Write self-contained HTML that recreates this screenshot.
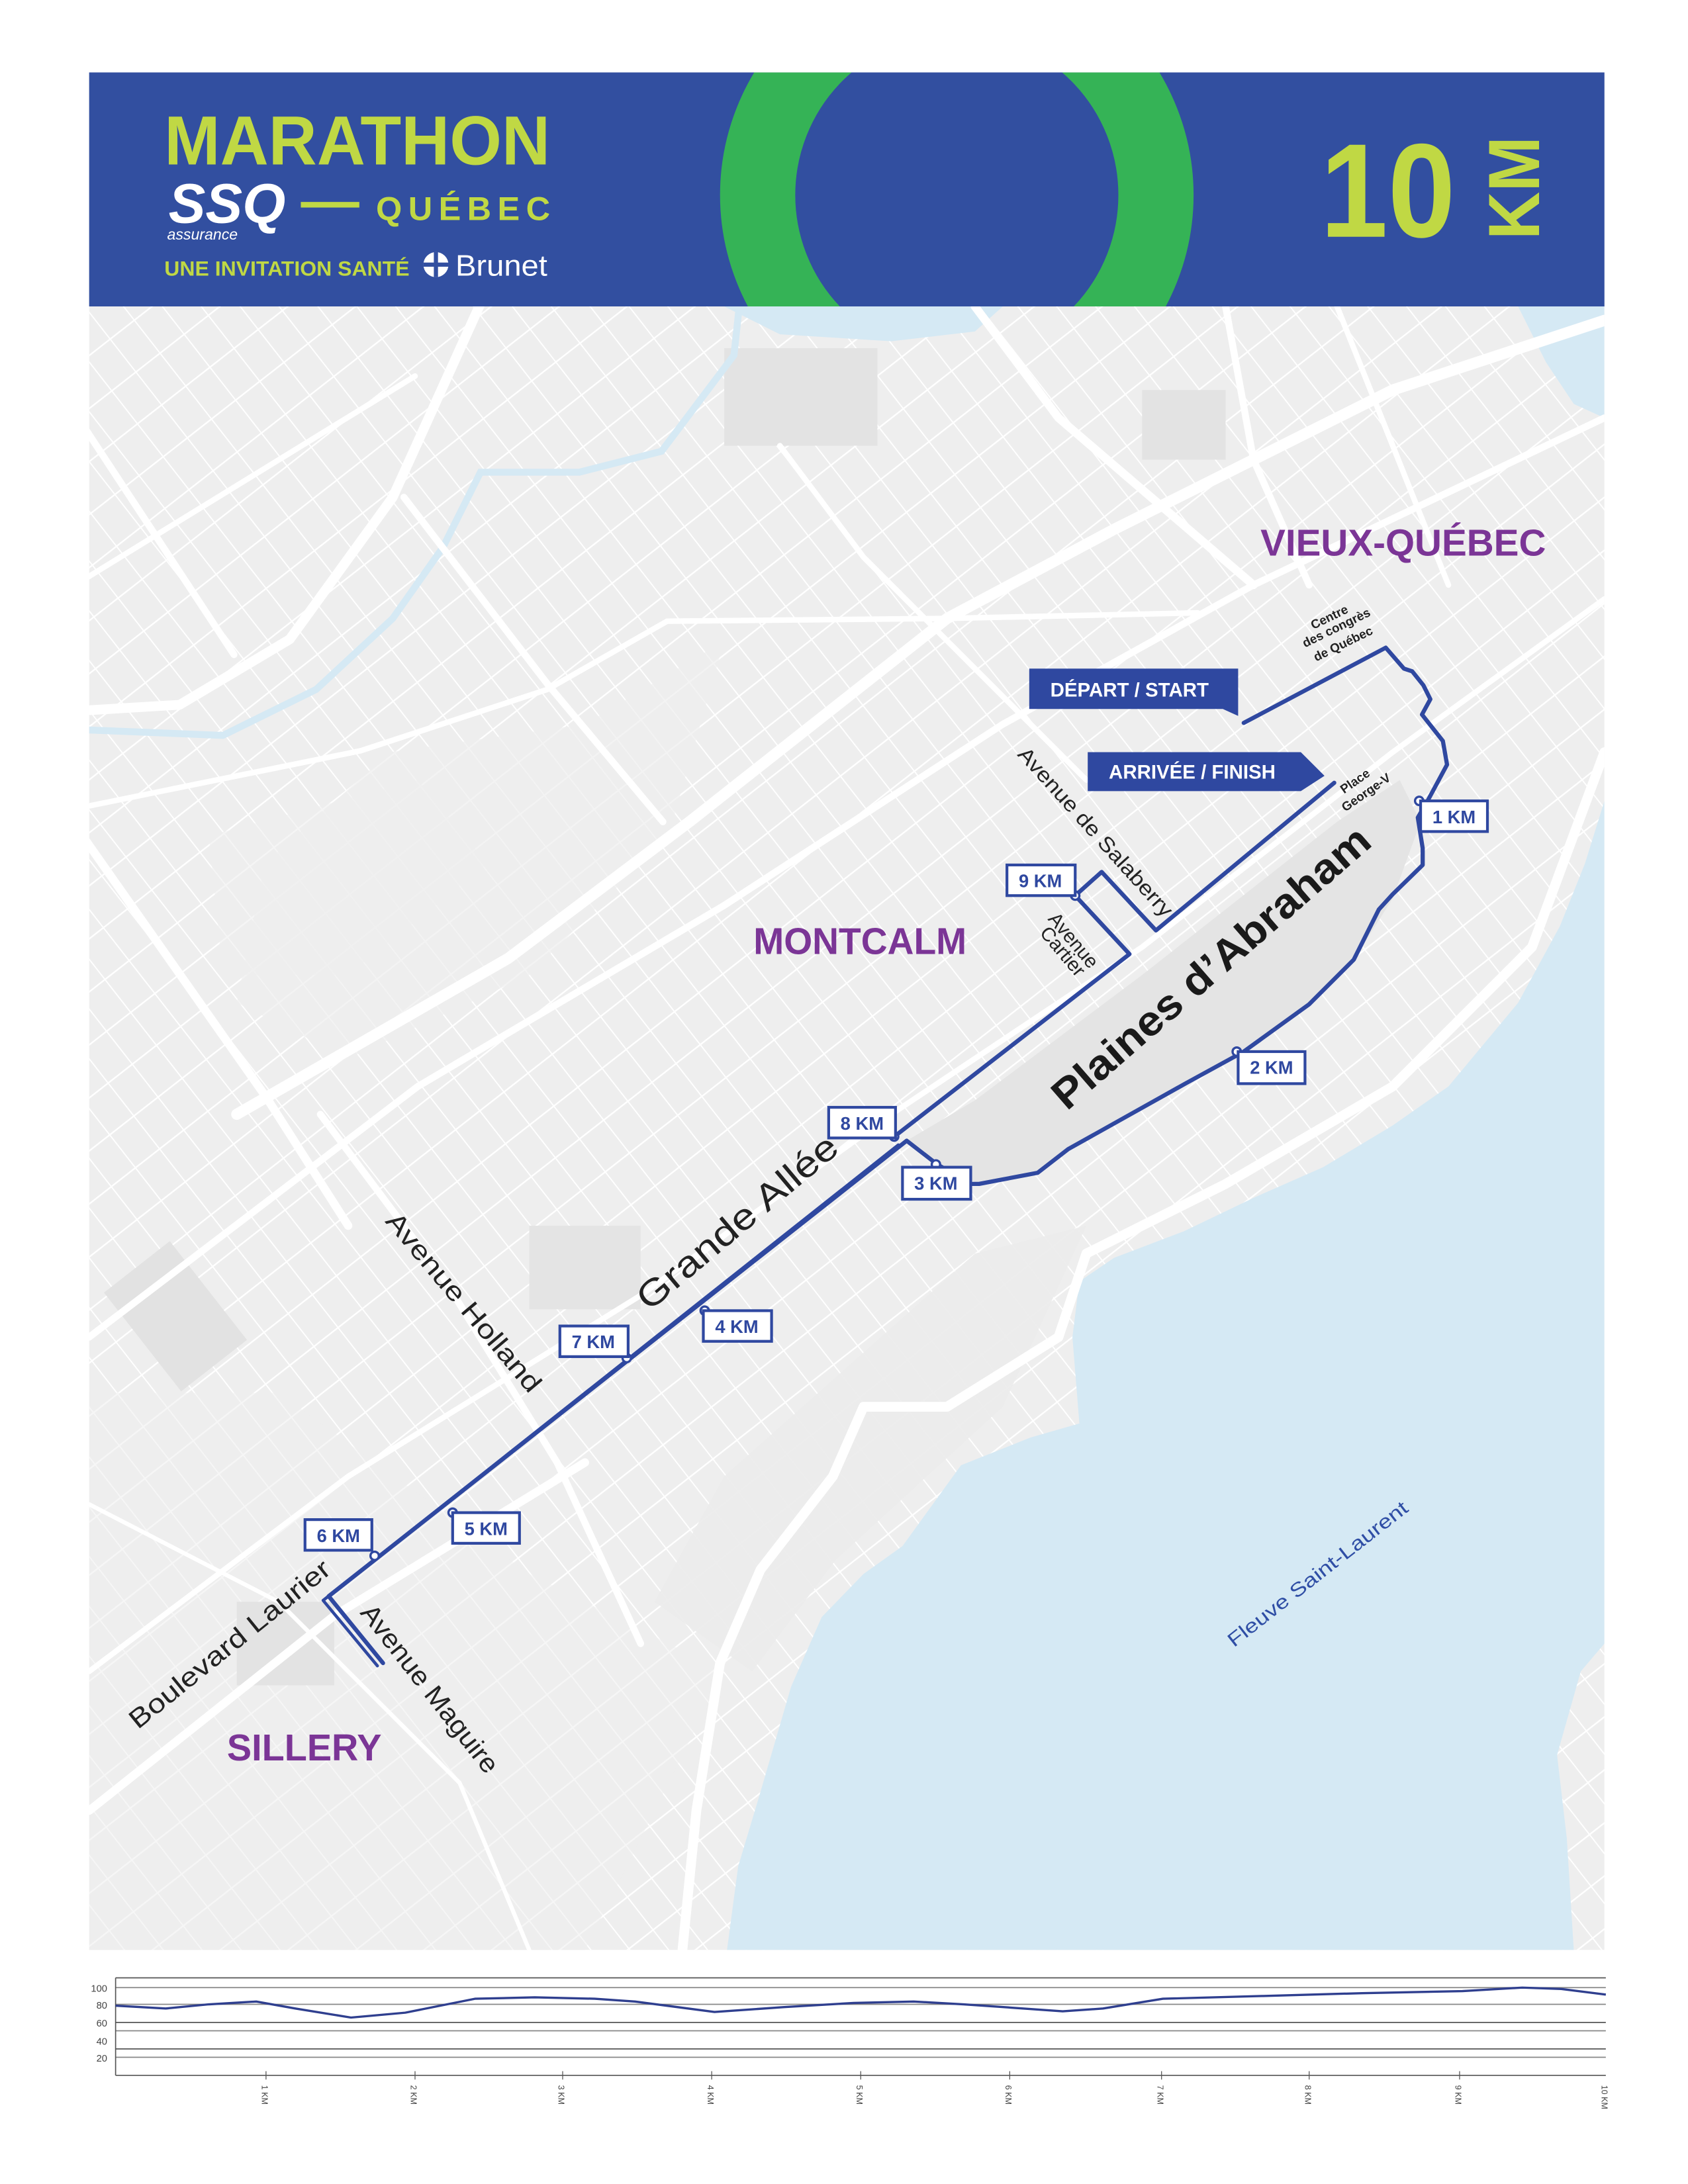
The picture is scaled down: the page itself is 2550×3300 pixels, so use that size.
<!DOCTYPE html>
<html><head><meta charset="utf-8"><style>
html,body{margin:0;padding:0;background:#fff}
svg{display:block}
text{font-family:"Liberation Sans","DejaVu Sans",sans-serif}
</style></head><body>
<svg width="2550" height="3300" viewBox="0 0 1212 1568" preserveAspectRatio="none" xmlns="http://www.w3.org/2000/svg">
<defs>
<clipPath id="hdr"><rect x="64" y="52" width="1088" height="168"/></clipPath>
<clipPath id="map"><rect x="64" y="220" width="1088" height="1180"/></clipPath>
<pattern id="grid" width="22" height="30" patternUnits="userSpaceOnUse" patternTransform="rotate(-38)">
<rect width="22" height="30" fill="none"/>
<line x1="0" y1="0" x2="22" y2="0" stroke="#fff" stroke-width="2.2"/>
<line x1="0" y1="0" x2="0" y2="30" stroke="#fff" stroke-width="1.8"/>
</pattern>
</defs>
<rect width="1212" height="1568" fill="#fff"/>
<!-- HEADER -->
<rect x="64" y="52" width="1088" height="168" fill="#324fa0"/>
<g clip-path="url(#hdr)">
<circle cx="687" cy="140" r="143" fill="none" stroke="#35b356" stroke-width="54"/>
</g>
<text x="118" y="118" font-size="50" font-weight="bold" fill="#c0d844" textLength="277" lengthAdjust="spacingAndGlyphs">MARATHON</text>
<text x="121" y="160" font-size="40" font-weight="bold" font-style="italic" fill="#fff" textLength="84" lengthAdjust="spacingAndGlyphs">SSQ</text>
<text x="120" y="172" font-size="11" font-style="italic" fill="#fff">assurance</text>
<rect x="216" y="145" width="42" height="4" fill="#c0d844"/>
<text x="270" y="158" font-size="24" font-weight="bold" fill="#c0d844" textLength="125" lengthAdjust="spacing">QUÉBEC</text>
<text x="118" y="198" font-size="15" font-weight="bold" fill="#c0d844" textLength="176" lengthAdjust="spacingAndGlyphs">UNE INVITATION SANTÉ</text>
<circle cx="313" cy="190" r="9" fill="#fff"/>
<rect x="311.5" y="181" width="3" height="18" fill="#324fa0"/><rect x="304" y="188.5" width="18" height="3" fill="#324fa0"/>
<text x="327" y="198" font-size="21" fill="#fff" textLength="66" lengthAdjust="spacingAndGlyphs">Brunet</text>
<text x="948" y="170" font-size="96" font-weight="bold" fill="#c0d844" textLength="97" lengthAdjust="spacingAndGlyphs">10</text>
<text transform="translate(1105,172) rotate(-90)" font-size="52" font-weight="bold" fill="#c0d844" textLength="74" lengthAdjust="spacingAndGlyphs">KM</text>

<!-- MAP -->
<g clip-path="url(#map)">
<rect x="64" y="220" width="1088" height="1180" fill="#eeeeee"/>
<rect x="64" y="220" width="1088" height="1180" fill="url(#grid)"/>
<!-- sparse zones -->
<path d="M64,1000 L200,1000 L380,1130 L520,1200 L420,1400 L64,1400Z" fill="#eeeeee" opacity="0.5"/>
<path d="M520,1060 L700,900 L780,880 L720,1010 L600,1120 L540,1200 L470,1150Z" fill="#ebebeb" opacity="0.9"/>
<path d="M280,540 L420,520 L520,460 L480,600 L380,700 L250,760 L170,720 L190,620Z" fill="#eeeeee" opacity="0.7"/>
<path d="M150,600 L300,560 L350,620 L250,700 L160,700Z" fill="#eeeeee" opacity="0.6"/>
<!-- parks -->
<path d="M651,819 L700,790 L820,700 L960,590 L1005,560 L1020,590 L1000,645 L972,689 L940,721 L893,755 L851,778 L766,825 L745,842 L703,850 L672,836Z" fill="#e4e4e4"/>
<rect x="520" y="250" width="110" height="70" fill="#e3e3e3"/>
<rect x="96" y="900" width="60" height="90" fill="#e2e2e2" transform="rotate(-38 126 945)"/>
<rect x="170" y="1150" width="70" height="60" fill="#e3e3e3"/>
<rect x="820" y="280" width="60" height="50" fill="#e3e3e3"/>
<rect x="380" y="880" width="80" height="60" fill="#e4e4e4"/>
<!-- water -->
<path d="M1152,575 L1138,620 L1120,665 L1090,720 L1040,780 L1000,808 L950,838 L900,860 L850,884 L800,903 L775,920 L770,960 L775,1022 L740,1032 L690,1052 L648,1110 L620,1130 L590,1161 L568,1211 L545,1290 L530,1340 L522,1400 L1130,1400 L1125,1320 L1118,1260 L1135,1200 L1152,1180Z" fill="#d5e9f4"/>
<path d="M1090,220 L1152,220 L1152,300 L1130,290 L1110,260Z" fill="#d5e9f4"/>
<path d="M520,220 L720,220 L700,238 L640,245 L560,240Z" fill="#d5e9f4"/>
<polyline points="61.8,524 160,528 227,495 282,444 318,393 345,339 416,339 475,324 527,255 531,218" fill="none" stroke="#d5e9f4" stroke-width="5"/>
<!-- major roads -->
<g fill="none" stroke="#fff" stroke-linecap="round" stroke-linejoin="round">
<polyline points="345,218 282,357 208,459 129,506 62,510" stroke-width="7"/>
<polyline points="62,309 168,470" stroke-width="5"/>
<polyline points="62,415 298,270" stroke-width="4"/>
<polyline points="290,357 393,491 476,590" stroke-width="5"/>
<polyline points="170,800 365,688 495,590 680,444 800,380 1000,280 1152,230" stroke-width="8"/>
<polyline points="62,604 192,789 250,880" stroke-width="6"/>
<polyline points="62,579 259,539 393,495 479,446 680,444 860,440" stroke-width="4"/>
<polyline points="64,960 300,780 520,650 720,520 900,420 1152,300" stroke-width="5"/>
<polyline points="64,1200 250,1060 460,930 640,800 820,680 1000,540 1152,430" stroke-width="4"/>
<polyline points="64,1300 240,1160 420,1050" stroke-width="6"/>
<polyline points="1152,540 1100,680 1000,780 880,850 780,900 760,960 680,1010 620,1010 598,1060 546,1127 517,1194 500,1300 490,1400" stroke-width="7"/>
<polyline points="230,800 320,920 400,1050 460,1180" stroke-width="5"/>
<polyline points="700,220 760,300 830,360 900,420" stroke-width="6"/>
<polyline points="880,220 900,330 940,420" stroke-width="5"/>
<polyline points="960,220 1000,320 1040,420" stroke-width="4"/>
<polyline points="560,320 620,400 700,480 780,560" stroke-width="4"/>
<polyline points="64,1080 200,1150 330,1280 380,1400" stroke-width="3"/>
</g>
<!-- route -->
<g fill="none" stroke="#2f48a0" stroke-width="3" stroke-linejoin="round" stroke-linecap="round">
<polyline points="893,519 995,465 1008,480 1014,482 1022,492 1027,502 1021,513 1036,532 1039,549 1025,575 1018,587 1021.5,609 1021.5,621 1000,642 990,653 972,689 940,721 893,755 851,778 767,825 745,842 703,850 697,850"/>
<polyline points="697,850 673,836 651,819 236,1146 275,1194"/>
<polyline points="642,816 646,813 811,685 772,643 791,626 830,668 958,562"/>
<polyline points="645,822 232,1149 271,1196" stroke-width="2.2"/>
</g>
<g fill="#fff" stroke="#2f48a0" stroke-width="1.6">
<circle cx="1019" cy="575" r="3"/><circle cx="888" cy="755" r="3"/><circle cx="672" cy="836" r="3"/>
<circle cx="642" cy="816" r="3"/><circle cx="506" cy="941" r="3"/><circle cx="450" cy="975" r="3"/>
<circle cx="325" cy="1086" r="3"/><circle cx="269" cy="1117" r="3"/><circle cx="772" cy="643" r="3"/>
</g>
<!-- km boxes -->
<g fill="#fff" stroke="#2f48a0" stroke-width="2">
<rect x="1020" y="575" width="48" height="22"/><rect x="889" y="755" width="48" height="23"/>
<rect x="648" y="838" width="49" height="23"/><rect x="595" y="795" width="48" height="22"/>
<rect x="505" y="941" width="49" height="22"/><rect x="402" y="952" width="49" height="22"/>
<rect x="325" y="1086" width="48" height="22"/><rect x="219" y="1091" width="48" height="22"/>
<rect x="723" y="621" width="49" height="22"/>
</g>
<g fill="#2f48a0" font-size="13" font-weight="bold" text-anchor="middle">
<text x="1044" y="591">1 KM</text><text x="913" y="771">2 KM</text><text x="672" y="854">3 KM</text>
<text x="619" y="811">8 KM</text><text x="529" y="957">4 KM</text><text x="426" y="968">7 KM</text>
<text x="349" y="1102">5 KM</text><text x="243" y="1107">6 KM</text><text x="747" y="637">9 KM</text>
</g>
<!-- start / finish -->
<path d="M739,480 L889,480 L889,514 L878,509 L739,509Z" fill="#2f48a0"/>
<text x="811" y="500" font-size="14" font-weight="bold" fill="#fff" text-anchor="middle">DÉPART / START</text>
<path d="M781,540 L934,540 L951,557 L934,568 L781,568Z" fill="#2f48a0"/>
<text x="856" y="559" font-size="14" font-weight="bold" fill="#fff" text-anchor="middle">ARRIVÉE / FINISH</text>
<!-- labels -->
<text x="905" y="399" font-size="27" font-weight="bold" fill="#7b3596" textLength="205" lengthAdjust="spacingAndGlyphs">VIEUX-QUÉBEC</text>
<text x="541" y="685" font-size="27" font-weight="bold" fill="#7b3596" textLength="153" lengthAdjust="spacingAndGlyphs">MONTCALM</text>
<text x="163" y="1264" font-size="27" font-weight="bold" fill="#7b3596" textLength="111" lengthAdjust="spacingAndGlyphs">SILLERY</text>
<text transform="translate(766,798) rotate(-41)" font-size="30" font-weight="bold" fill="#1a1a1a" textLength="292" lengthAdjust="spacingAndGlyphs">Plaines d’Abraham</text>
<text transform="translate(466,942) rotate(-40)" font-size="26" fill="#222" textLength="180" lengthAdjust="spacingAndGlyphs">Grande Allée</text>
<text transform="translate(276,877) rotate(50)" font-size="19" fill="#222" textLength="162" lengthAdjust="spacingAndGlyphs">Avenue Holland</text>
<text transform="translate(730,542) rotate(48)" font-size="15" fill="#222" textLength="158" lengthAdjust="spacingAndGlyphs">Avenue de Salaberry</text>
<text transform="translate(752,660) rotate(50)" font-size="14" fill="#222">Avenue</text>
<text transform="translate(746,670) rotate(50)" font-size="14" fill="#222">Cartier</text>
<text transform="translate(99,1242) rotate(-39)" font-size="19" fill="#222" textLength="180" lengthAdjust="spacingAndGlyphs">Boulevard Laurier</text>
<text transform="translate(258,1158) rotate(52)" font-size="19" fill="#222" textLength="148" lengthAdjust="spacingAndGlyphs">Avenue Maguire</text>
<text transform="translate(943,452) rotate(-26)" font-size="9" font-weight="bold" fill="#222">Centre</text>
<text transform="translate(937,465) rotate(-26)" font-size="9" font-weight="bold" fill="#222">des congrès</text>
<text transform="translate(945,475) rotate(-26)" font-size="9" font-weight="bold" fill="#222">de Québec</text>
<text transform="translate(965,570) rotate(-35)" font-size="9" font-weight="bold" fill="#222">Place</text>
<text transform="translate(966,583) rotate(-35)" font-size="9" font-weight="bold" fill="#222">George-V</text>
<text transform="translate(886,1183) rotate(-38)" font-size="14" fill="#2f4ea5" textLength="160" lengthAdjust="spacingAndGlyphs">Fleuve Saint-Laurent</text>
</g>

<!-- ELEVATION CHART -->
<g stroke="#555" stroke-width="0.8">
<line x1="83" y1="1420" x2="1153" y2="1420"/><line x1="83" y1="1427" x2="1153" y2="1427" stroke="#888"/>
<line x1="83" y1="1439" x2="1153" y2="1439" stroke="#888"/><line x1="83" y1="1452" x2="1153" y2="1452"/>
<line x1="83" y1="1458" x2="1153" y2="1458" stroke="#888"/><line x1="83" y1="1471" x2="1153" y2="1471"/>
<line x1="83" y1="1477" x2="1153" y2="1477" stroke="#888"/><line x1="83" y1="1490" x2="1153" y2="1490"/>
<line x1="83" y1="1420" x2="83" y2="1490"/>
</g>
<g font-size="7" fill="#444" text-anchor="end">
<text x="77" y="1430">100</text><text x="77" y="1442">80</text><text x="77" y="1455">60</text><text x="77" y="1468">40</text><text x="77" y="1480">20</text>
</g>
<polyline fill="none" stroke="#2f3f8f" stroke-width="1.6" stroke-linejoin="round" points="83,1440 119,1442 150,1439 184,1437 212,1442 252,1448.5 291,1445 341,1435 384,1434 427,1435 456,1437 513,1444.5 563,1441 613,1438 656,1437 692,1439 763,1444 792,1442 835,1435 907,1433 978,1431 1050,1429.5 1093,1427 1121,1428 1153,1432"/>
<g stroke="#555" stroke-width="0.6">
<line x1="191" y1="1487" x2="191" y2="1493"/><line x1="298" y1="1487" x2="298" y2="1493"/><line x1="404" y1="1487" x2="404" y2="1493"/>
<line x1="511" y1="1487" x2="511" y2="1493"/><line x1="618" y1="1487" x2="618" y2="1493"/><line x1="725" y1="1487" x2="725" y2="1493"/>
<line x1="834" y1="1487" x2="834" y2="1493"/><line x1="940" y1="1487" x2="940" y2="1493"/><line x1="1048" y1="1487" x2="1048" y2="1493"/>
</g>
<g font-size="6" fill="#444">
<text transform="translate(188,1497) rotate(90)">1 KM</text><text transform="translate(295,1497) rotate(90)">2 KM</text>
<text transform="translate(401,1497) rotate(90)">3 KM</text><text transform="translate(508,1497) rotate(90)">4 KM</text>
<text transform="translate(615,1497) rotate(90)">5 KM</text><text transform="translate(722,1497) rotate(90)">6 KM</text>
<text transform="translate(831,1497) rotate(90)">7 KM</text><text transform="translate(937,1497) rotate(90)">8 KM</text>
<text transform="translate(1045,1497) rotate(90)">9 KM</text><text transform="translate(1150,1497) rotate(90)">10 KM</text>
</g>
</svg>
</body></html>
